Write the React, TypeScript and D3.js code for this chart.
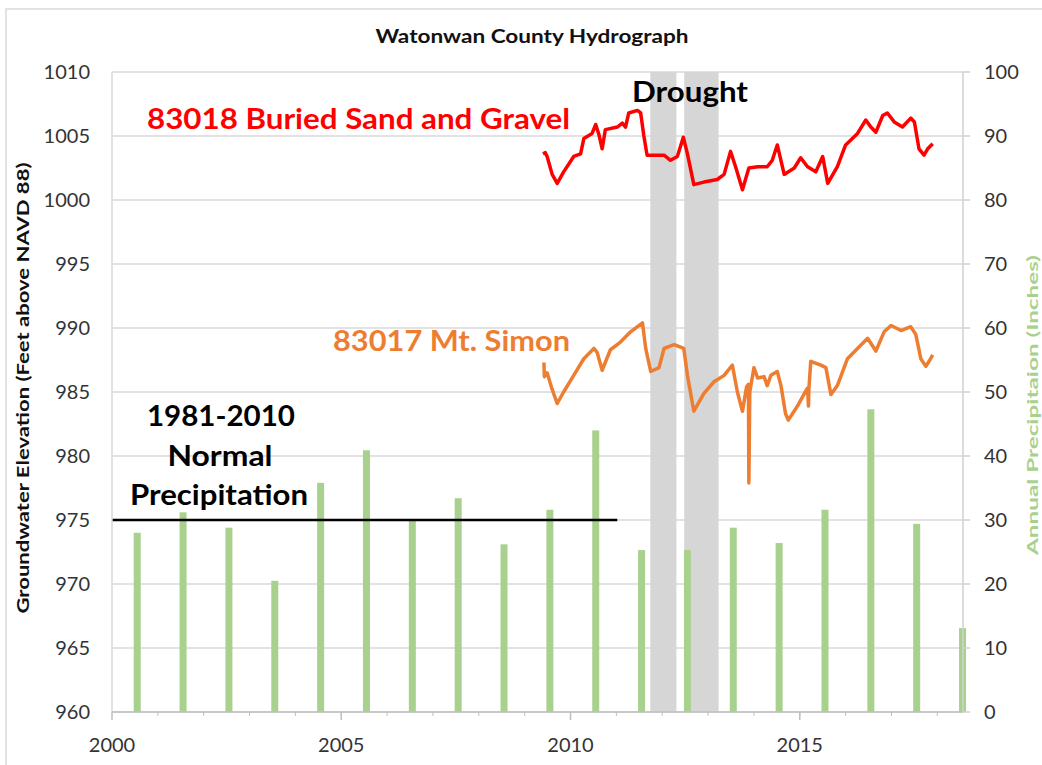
import React from "react";
import * as d3 from "d3";

const years: number[] = [2000, 2001, 2002, 2003, 2004, 2005, 2006, 2007, 2008, 2009, 2010, 2011, 2012, 2013, 2014, 2015, 2016, 2017, 2018];
const precipitation: number[] = [28.0, 31.2, 28.8, 20.5, 35.8, 40.9, 30.0, 33.4, 26.2, 31.6, 44.0, 25.3, 25.3, 28.8, 26.4, 31.6, 47.3, 29.4, 13.1];

const well83018: [number, number][] = [
  [2009.40, 1003.6], [2009.45, 1003.7], [2009.49, 1003.4], [2009.60, 1002.0], [2009.71, 1001.3], [2009.85, 1002.2],
  [2010.07, 1003.4], [2010.22, 1003.6], [2010.29, 1004.8], [2010.47, 1005.2], [2010.55, 1005.9], [2010.62, 1005.1],
  [2010.69, 1004.0], [2010.76, 1005.5], [2011.02, 1005.7], [2011.13, 1006.0], [2011.20, 1005.7], [2011.27, 1006.8],
  [2011.46, 1007.0], [2011.53, 1006.8], [2011.60, 1005.0], [2011.67, 1003.5], [2011.89, 1003.5], [2012.04, 1003.5],
  [2012.18, 1003.1], [2012.33, 1003.4], [2012.46, 1004.9], [2012.55, 1003.6], [2012.69, 1001.2], [2012.91, 1001.4],
  [2013.20, 1001.6], [2013.35, 1002.0], [2013.49, 1003.8], [2013.60, 1002.6], [2013.75, 1000.8], [2013.89, 1002.5],
  [2014.08, 1002.6], [2014.29, 1002.6], [2014.40, 1003.1], [2014.51, 1004.3], [2014.66, 1002.0], [2014.88, 1002.5],
  [2015.02, 1003.3], [2015.17, 1002.6], [2015.35, 1002.2], [2015.50, 1003.4], [2015.61, 1001.3], [2015.82, 1002.6],
  [2016.00, 1004.3], [2016.26, 1005.2], [2016.44, 1006.25], [2016.55, 1005.7], [2016.66, 1005.3], [2016.81, 1006.6],
  [2016.91, 1006.8], [2017.06, 1006.1], [2017.24, 1005.7], [2017.42, 1006.4], [2017.50, 1006.1], [2017.60, 1004.0],
  [2017.71, 1003.5], [2017.79, 1004.0], [2017.90, 1004.4],
];

const well83017: [number, number][] = [
  [2009.42, 987.3], [2009.43, 986.2], [2009.49, 986.5], [2009.60, 985.2], [2009.71, 984.1], [2009.85, 985.0],
  [2010.07, 986.3], [2010.29, 987.6], [2010.51, 988.4], [2010.58, 988.1], [2010.69, 986.7], [2010.87, 988.3],
  [2011.09, 988.9], [2011.31, 989.7], [2011.57, 990.4], [2011.64, 988.4], [2011.75, 986.6], [2011.93, 986.9],
  [2012.04, 988.4], [2012.26, 988.7], [2012.47, 988.4], [2012.55, 986.3], [2012.69, 983.5], [2012.91, 984.9],
  [2013.13, 985.8], [2013.35, 986.3], [2013.53, 987.1], [2013.64, 985.0], [2013.75, 983.5], [2013.84, 985.4],
  [2013.88, 985.6], [2013.89, 977.9], [2013.91, 985.0], [2014.00, 986.9], [2014.08, 986.1], [2014.22, 986.2],
  [2014.29, 985.5], [2014.37, 986.3], [2014.51, 986.6], [2014.59, 985.5], [2014.69, 983.3], [2014.75, 982.8],
  [2014.95, 983.9], [2015.15, 985.2], [2015.17, 985.3], [2015.19, 983.9], [2015.20, 985.3], [2015.24, 987.4],
  [2015.46, 987.1], [2015.57, 986.9], [2015.68, 984.8], [2015.82, 985.5], [2016.04, 987.6], [2016.26, 988.4],
  [2016.48, 989.2], [2016.66, 988.2], [2016.84, 989.7], [2016.99, 990.2], [2017.21, 989.8], [2017.42, 990.1],
  [2017.53, 989.5], [2017.64, 987.6], [2017.75, 987.0], [2017.82, 987.4], [2017.90, 987.9],
];

const droughtPeriods: [number, number][] = [[2011.74, 2012.31], [2012.48, 2013.23]];
const normalPrecip: number = 30;
const normalPeriod: [number, number] = [2000, 2011.02];

const leftTicks: number[] = [960, 965, 970, 975, 980, 985, 990, 995, 1000, 1005, 1010];
const rightTicks: number[] = [0, 10, 20, 30, 40, 50, 60, 70, 80, 90, 100];
const xMajorTicks: number[] = [2000, 2005, 2010, 2015];
const xMinorTicks: number[] = d3.range(2001, 2019);

const FONT = "Lato, 'Open Sans', sans-serif";

export default function App() {
  const left = 112, right = 963, top = 72, bottom = 712;
  const x = d3.scaleLinear().domain([2000, 2018.56]).range([left, right]);
  const yL = d3.scaleLinear().domain([960, 1010]).range([bottom, top]);
  const yR = d3.scaleLinear().domain([0, 100]).range([bottom, top]);
  const line = d3.line<[number, number]>().x((d) => x(d[0])).y((d) => yL(d[1])).curve(d3.curveLinear);
  const barW = 7;

  return (
    <svg width={1042} height={765} style={{ position: "absolute", left: 0, top: 0, background: "#fff" }} fontFamily={FONT}>
      <rect x={6} y={9} width={1060} height={780} fill="#fff" stroke="#d9d9d9" strokeWidth={1.5} />
      <text x={532} y={43} textAnchor="middle" fontSize={18} fontWeight={700} fill="#111" textLength={313} lengthAdjust="spacingAndGlyphs">
        Watonwan County Hydrograph
      </text>

      {leftTicks.map((t) => (
        <line key={"g" + t} x1={left} x2={right} y1={yL(t)} y2={yL(t)} stroke="#d9d9d9" strokeWidth={1.5} />
      ))}

      {droughtPeriods.map((p, i) => (
        <rect key={"d" + i} x={x(p[0])} y={top} width={x(p[1]) - x(p[0])} height={bottom - top} fill="#d6d6d6" />
      ))}

      {years.map((yr, i) => (
        <rect key={"b" + yr} x={x(yr + 0.55) - barW / 2} y={yR(precipitation[i])} width={barW} height={bottom - yR(precipitation[i])} fill="#a9d18e" />
      ))}

      <line x1={x(normalPeriod[0])} x2={x(normalPeriod[1])} y1={yR(normalPrecip)} y2={yR(normalPrecip)} stroke="#000" strokeWidth={2.5} />

      <path d={line(well83018) || ""} fill="none" stroke="#ff0000" strokeWidth={3.5} strokeLinejoin="round" />
      <path d={line(well83017) || ""} fill="none" stroke="#ed7d31" strokeWidth={3.5} strokeLinejoin="round" />

      <line x1={left} x2={left} y1={top} y2={bottom} stroke="#d9d9d9" strokeWidth={1.5} />
      <line x1={right} x2={right} y1={top} y2={bottom} stroke="#d0d0d0" strokeWidth={1.5} />
      {rightTicks.map((t) => (
        <line key={"rt" + t} x1={right} x2={right + 7} y1={yR(t)} y2={yR(t)} stroke="#d0d0d0" strokeWidth={1.5} />
      ))}
      <line x1={left} x2={right} y1={bottom} y2={bottom} stroke="#bfbfbf" strokeWidth={1.5} />
      {xMajorTicks.map((t) => (
        <line key={"xm" + t} x1={x(t)} x2={x(t)} y1={bottom} y2={bottom + 8} stroke="#bfbfbf" strokeWidth={1.5} />
      ))}
      {xMinorTicks.map((t) => (
        <line key={"xn" + t} x1={x(t)} x2={x(t)} y1={bottom} y2={bottom + 4} stroke="#bfbfbf" strokeWidth={1} />
      ))}

      {leftTicks.map((t) => (
        <text key={"lt" + t} x={90} y={yL(t) + 7} textAnchor="end" fontSize={20} fill="#333">{t}</text>
      ))}
      {rightTicks.map((t) => (
        <text key={"rl" + t} x={984} y={yR(t) + 7} textAnchor="start" fontSize={20} fill="#333">{t}</text>
      ))}
      {xMajorTicks.map((t) => (
        <text key={"xl" + t} x={x(t)} y={752} textAnchor="middle" fontSize={20} fill="#333">{t}</text>
      ))}

      <text transform="translate(29,388) rotate(-90)" textAnchor="middle" fontSize={17} fontWeight={700} fill="#111" textLength={451} lengthAdjust="spacingAndGlyphs">
        Groundwater Elevation (Feet above NAVD 88)
      </text>
      <text transform="translate(1038,405) rotate(-90)" textAnchor="middle" fontSize={16} fontWeight={700} fill="#a9d18e" textLength={300} lengthAdjust="spacingAndGlyphs">
        Annual Precipitaion (Inches)
      </text>

      <text x={147} y={129} fontSize={29} fontWeight={700} fill="#ff0000" textLength={423} lengthAdjust="spacingAndGlyphs">83018 Buried Sand and Gravel</text>
      <text x={333} y={351} fontSize={29} fontWeight={700} fill="#ed7d31" textLength={237} lengthAdjust="spacingAndGlyphs">83017 Mt. Simon</text>
      <text x={690} y={102} textAnchor="middle" fontSize={29} fontWeight={700} fill="#000" textLength={116} lengthAdjust="spacingAndGlyphs">Drought</text>
      <text x={221} y={426} textAnchor="middle" fontSize={29} fontWeight={700} fill="#000" textLength={148} lengthAdjust="spacingAndGlyphs">1981-2010</text>
      <text x={220} y={466} textAnchor="middle" fontSize={29} fontWeight={700} fill="#000" textLength={105} lengthAdjust="spacingAndGlyphs">Normal</text>
      <text x={219} y={505} textAnchor="middle" fontSize={29} fontWeight={700} fill="#000" textLength={178} lengthAdjust="spacingAndGlyphs">Precipitation</text>
    </svg>
  );
}
